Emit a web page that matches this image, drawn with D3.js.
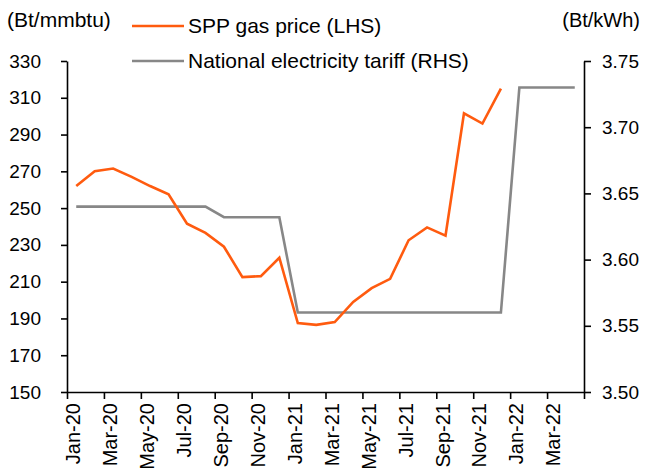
<!DOCTYPE html>
<html>
<head>
<meta charset="utf-8">
<script src="https://cdn.jsdelivr.net/npm/d3@7"></script>
<style>
body{margin:0;background:#fff;}
text{font-family:"Liberation Sans",Arial,sans-serif;}
</style>
</head>
<body>
<script>
var months = ["Jan-20","Feb-20","Mar-20","Apr-20","May-20","Jun-20","Jul-20","Aug-20","Sep-20","Oct-20","Nov-20","Dec-20",
	"Jan-21","Feb-21","Mar-21","Apr-21","May-21","Jun-21","Jul-21","Aug-21","Sep-21","Oct-21","Nov-21","Dec-21",
	"Jan-22","Feb-22","Mar-22","Apr-22"];

// SPP gas price, Bt/mmbtu (LHS) - ends Dec-21
var gasPrice = [262,270,271.5,267,262,257.5,241.5,236.5,229,212.5,213,223,
	187.5,186.5,188,199,206.5,211.5,232.5,239.5,235,301.5,296,315];

// national electricity tariff, Bt/kWh (RHS)
var tariff = [3.64,3.64,3.64,3.64,3.64,3.64,3.64,3.64,3.632,3.632,3.632,3.632,
	3.56,3.56,3.56,3.56,3.56,3.56,3.56,3.56,3.56,3.56,3.56,3.56,
	3.73,3.73,3.73,3.73];

var leftTicks = [150,170,190,210,230,250,270,290,310,330];
var rightTicks = [3.50,3.55,3.60,3.65,3.70,3.75];

var w = 648, h = 473;
var mLeft = 67, mRight = 584, mTop = 61, mBottom = 392;

var svg = d3.select("body").append("svg")
	.attr("width",w)
	.attr("height",h);

var x = d3.scaleLinear().domain([0,months.length]).range([mLeft,mRight]);
var yL = d3.scaleLinear().domain([150,330]).range([mBottom,mTop]);
var yR = d3.scaleLinear().domain([3.50,3.75]).range([mBottom,mTop]);

function styleAxis(g){
	g.selectAll("path,line").attr("stroke","#000").attr("stroke-width",1.6);
	g.selectAll("text").attr("font-size",19).attr("fill","#000").attr("font-family","Liberation Sans, Arial, sans-serif");
}

// left axis
svg.append("g")
	.attr("transform","translate("+mLeft+",0)")
	.call(d3.axisLeft(yL).tickValues(leftTicks).tickSize(6).tickSizeOuter(0).tickPadding(20))
	.call(styleAxis);

// right axis
svg.append("g")
	.attr("transform","translate("+mRight+",0)")
	.call(d3.axisRight(yR).tickValues(rightTicks).tickSize(7).tickSizeOuter(0).tickPadding(11).tickFormat(d3.format(".2f")))
	.call(styleAxis);

// x axis, ticks between every 2 months
var xAxis = svg.append("g")
	.attr("transform","translate(0,"+mBottom+")")
	.call(d3.axisBottom(x).tickValues(d3.range(0,months.length+1,2)).tickFormat("").tickSize(7).tickSizeOuter(0))
	.call(styleAxis);

xAxis.selectAll(".mlabel")
	.data(months.filter(function(d,i){return i%2===0;}))
	.enter()
	.append("text")
	.attr("class","mlabel")
	.attr("transform",function(d,i){return "translate("+(x(i*2+0.5)+4)+",11) rotate(-90)";})
	.attr("text-anchor","end")
	.attr("font-size",20)
	.attr("fill","#000")
	.text(function(d){return d;});

// lines
var gasLine = d3.line()
	.x(function(d,i){return x(i+0.5);})
	.y(function(d){return yL(d);});

var tariffLine = d3.line()
	.x(function(d,i){return x(i+0.5);})
	.y(function(d){return yR(d);});

svg.append("path")
	.datum(tariff)
	.attr("d",tariffLine)
	.attr("fill","none")
	.attr("stroke","#878787")
	.attr("stroke-width",2.6);

svg.append("path")
	.datum(gasPrice)
	.attr("d",gasLine)
	.attr("fill","none")
	.attr("stroke","#ff5b0f")
	.attr("stroke-width",2.6);

// unit labels
svg.append("text").attr("x",7).attr("y",27).attr("font-size",21).text("(Bt/mmbtu)");
svg.append("text").attr("x",640).attr("y",27).attr("font-size",20).attr("text-anchor","end").text("(Bt/kWh)");

// legend
var legend = [
	{name:"SPP gas price (LHS)", color:"#ff5b0f"},
	{name:"National electricity tariff (RHS)", color:"#878787"}
];

var lg = svg.selectAll(".leg")
	.data(legend)
	.enter()
	.append("g")
	.attr("class","leg")
	.attr("transform",function(d,i){return "translate(132,"+(26+i*35)+")";});

lg.append("line")
	.attr("x1",0).attr("x2",52)
	.attr("stroke",function(d){return d.color;})
	.attr("stroke-width",2.6);

lg.append("text")
	.attr("x",56)
	.attr("y",7)
	.attr("font-size",21)
	.text(function(d){return d.name;});
</script>
</body>
</html>
